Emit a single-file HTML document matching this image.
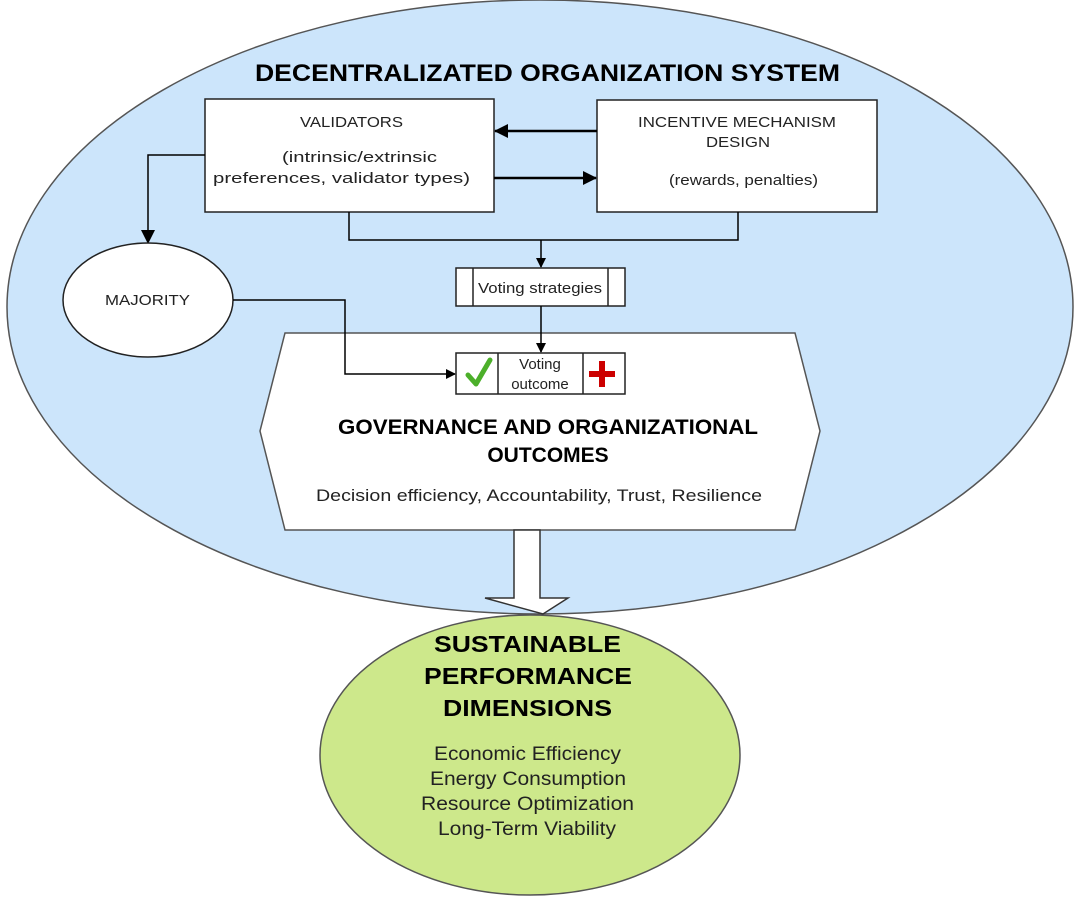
<!DOCTYPE html>
<html><head><style>
body{margin:0;background:#fff}
svg text{font-family:"Liberation Sans",sans-serif}
</style></head><body>
<svg width="1080" height="900" viewBox="0 0 1080 900" xmlns="http://www.w3.org/2000/svg">
<defs><marker id="a" markerWidth="10" markerHeight="10" refX="9" refY="5" orient="auto" markerUnits="userSpaceOnUse"><path d="M0,0 L10,5 L0,10 z" fill="#000"/></marker>
<marker id="b" markerWidth="14" markerHeight="14" refX="13" refY="7" orient="auto" markerUnits="userSpaceOnUse"><path d="M0,0 L14,7 L0,14 z" fill="#000"/></marker></defs>
<ellipse cx="540" cy="307" rx="533" ry="307" fill="#cce5fb" stroke="#555" stroke-width="1.5"/>
<text x="255" y="81" font-size="24" font-weight="bold" textLength="585" lengthAdjust="spacingAndGlyphs">DECENTRALIZATED ORGANIZATION SYSTEM</text>
<rect x="205" y="99" width="289" height="113" fill="#fff" stroke="#222" stroke-width="1.5"/>
<text font-size="15" fill="#222"><tspan x="300" y="127" textLength="103" lengthAdjust="spacingAndGlyphs">VALIDATORS</tspan><tspan x="282" y="162" textLength="155" lengthAdjust="spacingAndGlyphs">(intrinsic/extrinsic</tspan><tspan x="213" y="183" textLength="257" lengthAdjust="spacingAndGlyphs">preferences, validator types)</tspan></text>
<rect x="597" y="100" width="280" height="112" fill="#fff" stroke="#222" stroke-width="1.5"/>
<text font-size="15" fill="#222"><tspan x="638" y="127" textLength="198" lengthAdjust="spacingAndGlyphs">INCENTIVE MECHANISM</tspan><tspan x="706" y="147" textLength="64" lengthAdjust="spacingAndGlyphs">DESIGN</tspan><tspan x="669" y="185" textLength="149" lengthAdjust="spacingAndGlyphs">(rewards, penalties)</tspan></text>
<line x1="597" y1="131" x2="495" y2="131" stroke="#000" stroke-width="2.5" marker-end="url(#b)"/>
<line x1="494" y1="178" x2="596" y2="178" stroke="#000" stroke-width="2.5" marker-end="url(#b)"/>
<polyline points="205,155 148,155 148,243" fill="none" stroke="#000" stroke-width="1.5" marker-end="url(#b)"/>
<ellipse cx="148" cy="300" rx="85" ry="57" fill="#fff" stroke="#222" stroke-width="1.5"/>
<text x="105" y="305" font-size="15" fill="#222" textLength="85" lengthAdjust="spacingAndGlyphs">MAJORITY</text>
<polyline points="349,212 349,240 738,240 738,212" fill="none" stroke="#000" stroke-width="1.5"/>
<line x1="541" y1="240" x2="541" y2="267" stroke="#000" stroke-width="1.5" marker-end="url(#a)"/>
<rect x="456" y="268" width="169" height="38" fill="#fff" stroke="#222" stroke-width="1.5"/>
<line x1="473" y1="268" x2="473" y2="306" stroke="#222" stroke-width="1.5"/>
<line x1="608" y1="268" x2="608" y2="306" stroke="#222" stroke-width="1.5"/>
<text x="478" y="293" font-size="15" fill="#222" textLength="124" lengthAdjust="spacingAndGlyphs">Voting strategies</text>
<polygon points="285,333 795,333 820,431 795,530 285,530 260,431" fill="#fff" stroke="#555" stroke-width="1.5"/>
<line x1="541" y1="306" x2="541" y2="352" stroke="#000" stroke-width="1.5" marker-end="url(#a)"/>
<polyline points="233,300 345,300 345,374 455,374" fill="none" stroke="#000" stroke-width="1.5" marker-end="url(#a)"/>
<rect x="456" y="353" width="169" height="41" fill="#fff" stroke="#222" stroke-width="1.5"/>
<line x1="498" y1="353" x2="498" y2="394" stroke="#222" stroke-width="1.5"/>
<line x1="583" y1="353" x2="583" y2="394" stroke="#222" stroke-width="1.5"/>
<path d="M468,375 L476,384 L490,360" fill="none" stroke="#4caf2a" stroke-width="5" stroke-linecap="round" stroke-linejoin="round"/>
<rect x="599" y="361" width="6" height="26" fill="#c00"/>
<rect x="589" y="371" width="26" height="6" fill="#c00"/>
<text font-size="15" text-anchor="middle" fill="#222"><tspan x="540" y="369">Voting</tspan><tspan x="540" y="389">outcome</tspan></text>
<text font-size="21" font-weight="bold"><tspan x="338" y="434" textLength="420" lengthAdjust="spacingAndGlyphs">GOVERNANCE AND ORGANIZATIONAL</tspan><tspan x="548" y="462" text-anchor="middle">OUTCOMES</tspan></text>
<text x="316" y="501" font-size="17" fill="#222" textLength="446" lengthAdjust="spacingAndGlyphs">Decision efficiency, Accountability, Trust, Resilience</text>
<ellipse cx="530" cy="755" rx="210" ry="140" fill="#cde88b" stroke="#555" stroke-width="1.5"/>
<polygon points="514,530 540,530 540,598 568,598 543,614 485,598 514,598" fill="#fff" stroke="#333" stroke-width="1.5"/>
<text font-size="23" font-weight="bold"><tspan x="434" y="652" textLength="187" lengthAdjust="spacingAndGlyphs">SUSTAINABLE</tspan><tspan x="424" y="684" textLength="208" lengthAdjust="spacingAndGlyphs">PERFORMANCE</tspan><tspan x="443" y="716" textLength="169" lengthAdjust="spacingAndGlyphs">DIMENSIONS</tspan></text>
<text font-size="19" fill="#222"><tspan x="434" y="760" textLength="187" lengthAdjust="spacingAndGlyphs">Economic Efficiency</tspan><tspan x="430" y="785" textLength="196" lengthAdjust="spacingAndGlyphs">Energy Consumption</tspan><tspan x="421" y="810" textLength="213" lengthAdjust="spacingAndGlyphs">Resource Optimization</tspan><tspan x="438" y="835" textLength="178" lengthAdjust="spacingAndGlyphs">Long-Term Viability</tspan></text>
</svg>
</body></html>
